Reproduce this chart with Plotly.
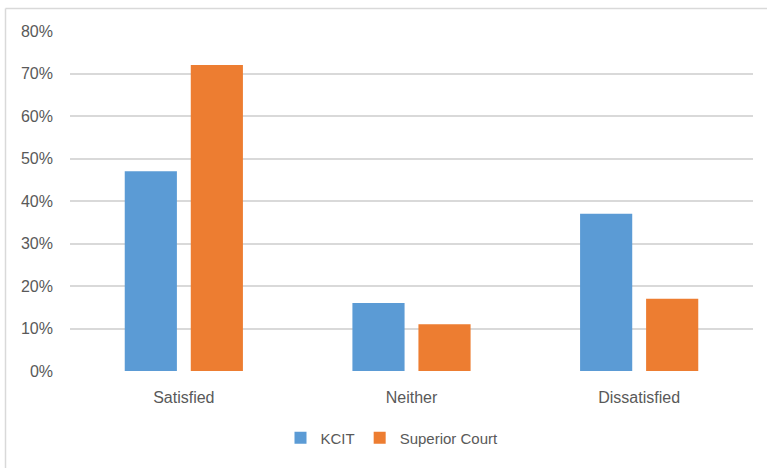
import plotly.graph_objects as go

categories = ["Satisfied", "Neither", "Dissatisfied"]
kcit = [0.47, 0.16, 0.37]
superior_court = [0.72, 0.11, 0.17]
tick_vals = [0, 0.1, 0.2, 0.3, 0.4, 0.5, 0.6, 0.7, 0.8]
tick_text = ["0%", "10%", "20%", "30%", "40%", "50%", "60%", "70%", "80%"]

W, H = 767, 468
L, R, T, B = 70, 14, 31, 97
pw, ph = W - L - R, H - T - B

def px_x(px):
    return (px - L) / pw

def px_y(py):
    return (H - B - py) / ph

font_family = "Liberation Sans, Arial, sans-serif"
text_color = "#595959"
grid_color = "#d9d9d9"

fig = go.Figure()
fig.add_trace(go.Bar(name="KCIT", x=categories, y=kcit, marker_color="#5B9BD5",
                     marker_line_width=0))
fig.add_trace(go.Bar(name="Superior Court", x=categories, y=superior_court,
                     marker_color="#ED7D31", marker_line_width=0))

fig.update_layout(
    width=W, height=H,
    margin=dict(l=L, r=R, t=T, b=B),
    paper_bgcolor="white", plot_bgcolor="white",
    barmode="group", bargap=0.42, bargroupgap=0.21,
    font=dict(family=font_family, size=16, color=text_color),
    xaxis=dict(showgrid=False, zeroline=False, showline=False,
               ticks="", ticklabelstandoff=15,
               tickfont=dict(size=16, color=text_color)),
    yaxis=dict(range=[0, 0.8], tickvals=tick_vals, ticktext=tick_text,
               showgrid=True, gridcolor=grid_color, gridwidth=1.5,
               zeroline=False, showline=False, ticks="",
               ticklabelstandoff=16,
               tickfont=dict(size=16, color=text_color)),
    legend=dict(orientation="h", x=px_x(392), y=px_y(438),
                xanchor="center", yanchor="middle",
                font=dict(size=15, color=text_color),
                bgcolor="rgba(0,0,0,0)"),
    showlegend=True,
)

# chart frame (top and left visible)
fig.add_shape(type="line", xref="paper", yref="paper",
              x0=px_x(5.5), x1=px_x(800), y0=px_y(8.5), y1=px_y(8.5),
              line=dict(color=grid_color, width=1.5))
fig.add_shape(type="line", xref="paper", yref="paper",
              x0=px_x(5.5), x1=px_x(5.5), y0=px_y(8.5), y1=px_y(500),
              line=dict(color=grid_color, width=1.5))

fig.write_html("out.html")
